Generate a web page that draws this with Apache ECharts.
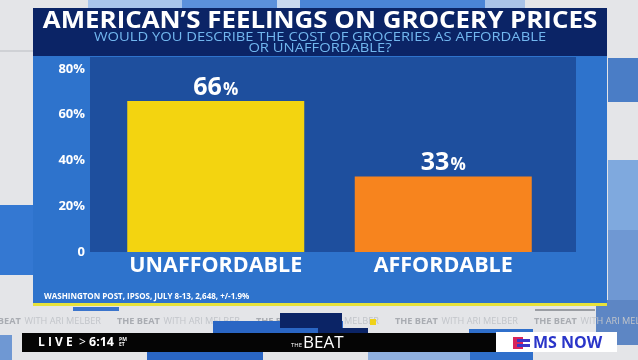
<!DOCTYPE html>
<html>
<head>
<meta charset="utf-8">
<script src="https://cdn.jsdelivr.net/npm/echarts@6/dist/echarts.min.js"></script>
<style>
  html, body { margin: 0; padding: 0; background: #e6e7e9; }
  #chart { width: 638px; height: 360px; }
</style>
</head>
<body>
<div id="chart"></div>
<script>
  const categories = ['UNAFFORDABLE', 'AFFORDABLE'];
  const values = [66, 33];
  const barColors = ['#f3d410', '#f7841e'];
  const yTicks = [0, 20, 40, 60, 80];

  const title = 'AMERICAN\u2019S FEELINGS ON GROCERY PRICES';
  const subtitle = 'WOULD YOU DESCRIBE THE COST OF GROCERIES AS AFFORDABLE\nOR UNAFFORDABLE?';
  const source = 'WASHINGTON POST, IPSOS, JULY 8-13, 2,648, +/-1.9%';

  const FONT = '"Open Sans", Lato, sans-serif';

  const chart = echarts.init(document.getElementById('chart'));

  // backdrop blocks behind the graphic (studio wall look)
  const rect = (x, y, w, h, fill, z) => ({
    type: 'rect', shape: { x, y, width: w, height: h },
    style: { fill }, z: z || 0, silent: true,
  });

  const ticker = [];
  for (let i = 0; i < 5; i++) {
    ticker.push({
      type: 'text', x: -22 + i * 139, y: 322, z: 1, scaleX: 1.08,
      style: {
        text: '{a|THE BEAT} {b|WITH ARI MELBER}', verticalAlign: 'middle',
        rich: {
          a: { fill: '#a9acb2', font: 'bold 8.5px ' + FONT },
          b: { fill: '#c2c5ca', font: '8.5px ' + FONT },
        },
      },
    });
  }

  chart.setOption({
    backgroundColor: '#e4e5e8',
    animation: false,
    grid: { left: 102, right: 81, top: 69, bottom: 108, containLabel: false },
    xAxis: {
      type: 'category',
      data: categories,
      z: 10,
      axisLine: { show: false },
      axisTick: { show: false },
      axisLabel: {
        color: '#ffffff',
        fontFamily: FONT,
        fontWeight: 'bold',
        fontSize: 21.5,
        margin: 3,
      },
    },
    yAxis: {
      type: 'value',
      min: yTicks[0],
      max: yTicks[yTicks.length - 1],
      interval: 20,
      z: 10,
      splitLine: { show: false },
      axisLine: { show: false },
      axisTick: { show: false },
      axisLabel: {
        color: '#ffffff',
        fontFamily: FONT,
        fontWeight: 'bold',
        fontSize: 13,
        margin: 17,
        formatter: (v) => (v === 0 ? '0' : v + '%'),
      },
    },
    series: [
      {
        type: 'bar',
        data: values.map((v, i) => ({ value: v, itemStyle: { color: barColors[i] } })),
        barWidth: 177,
        z: 5,
        label: {
          show: true,
          position: 'top',
          distance: 1,
          formatter: (p) => '{n|' + p.value + '}{p|%}',
          rich: {
            n: { color: '#ffffff', fontFamily: FONT, fontWeight: 'bold', fontSize: 25 },
            p: { color: '#ffffff', fontFamily: FONT, fontWeight: 'bold', fontSize: 17, padding: [5, 0, 0, 1] },
          },
        },
      },
    ],
    graphic: [
      // top wall blocks
      rect(88, 0, 94, 9, '#a8c5ec'),
      rect(182, 0, 95, 9, '#5b90db'),
      rect(277, 0, 23, 9, '#c8d8ef'),
      rect(300, 0, 185, 9, '#4a84d6'),
      rect(485, 0, 40, 9, '#a9c3e8'),
      rect(0, 50, 33, 2, '#cfd1d5'),
      // side blocks
      rect(0, 205, 33, 70, '#3478d2'),
      rect(608, 58, 30, 44, '#4a7dc6'),
      rect(608, 160, 30, 70, '#7fa9de'),
      rect(596, 300, 42, 45, '#5d86c4'),
      rect(608, 230, 30, 70, '#6f98d3'),
      // title box
      rect(33, 8, 574, 48, '#0b2466', 1),
      {
        type: 'text', x: 320, y: 21, z: 2, scaleX: 1.125,
        style: {
          text: title, fill: '#ffffff', font: 'bold 23px ' + FONT,
          align: 'center', verticalAlign: 'middle',
        },
      },
      {
        type: 'text', x: 320, y: 42.5, z: 2, scaleX: 1.18,
        style: {
          text: subtitle, fill: '#72b7ef', font: '12.5px ' + FONT,
          align: 'center', verticalAlign: 'middle', lineHeight: 11,
        },
      },
      // main panel + plot area
      rect(33, 56, 574, 248, '#2e73cc', 1),
      rect(90, 57, 486, 195, '#1e4f9e', 2),
      rect(33, 303, 574, 3, '#e7e23a', 2),
      {
        type: 'text', x: 44, y: 297, z: 3,
        style: { text: source, fill: '#ffffff', font: 'bold 8px ' + FONT, verticalAlign: 'middle' },
      },
      // lower ticker area
      rect(73, 307, 46, 4, '#3a74cc', 1),
      rect(535, 309, 60, 2, '#9a9da3', 1),
      ...ticker,
      rect(213, 321, 130, 12, '#2a66c4', 2),
      rect(280, 313, 62, 15, '#0b2466', 2),
      rect(318, 328, 50, 5, '#0b2466', 2),
      rect(370, 319, 6, 6, '#f0d21a', 2),
      rect(469, 329, 64, 31, '#2f6fcb', 0),
      rect(147, 352, 116, 8, '#2a66c4', 0),
      rect(368, 352, 102, 8, '#8fb0df', 0),
      rect(0, 335, 12, 25, '#6f98d3', 0),
      rect(22, 333, 474, 19, '#050505', 3),
      {
        type: 'text', x: 38, y: 342.5, z: 4,
        style: {
          text: 'L I V E', fill: '#ffffff', font: 'bold 12px ' + FONT,
          verticalAlign: 'middle',
        },
      },
      {
        type: 'text', x: 79, y: 342.5, z: 4,
        style: {
          text: '>', fill: '#ffffff', font: '12px ' + FONT,
          verticalAlign: 'middle',
        },
      },
      {
        type: 'text', x: 89, y: 342.5, z: 4,
        style: {
          text: '6:14', fill: '#ffffff', font: 'bold 12.5px ' + FONT,
          verticalAlign: 'middle',
        },
      },
      {
        type: 'text', x: 119, y: 342, z: 4,
        style: {
          text: 'PM\nET', fill: '#ffffff', font: 'bold 5px ' + FONT,
          verticalAlign: 'middle', lineHeight: 5,
        },
      },
      {
        type: 'text', x: 291, y: 343, z: 4,
        style: {
          text: '{a|THE}{b|BEAT}', verticalAlign: 'middle',
          rich: {
            a: { fill: '#ffffff', font: '6px ' + FONT, padding: [4, 1, 0, 0] },
            b: { fill: '#ffffff', font: '17px "Liberation Sans Narrow", ' + FONT },
          },
        },
      },
      rect(496, 332, 121, 20, '#ffffff', 3),
      rect(513, 337, 10, 12, '#d8255b', 4),
      rect(517, 339, 13, 3, '#3a35c9', 4),
      rect(517, 344, 13, 3, '#3a35c9', 4),
      {
        type: 'text', x: 533, y: 343, z: 4,
        style: {
          text: 'MS NOW', fill: '#2a35c9', font: 'bold 16px "Liberation Sans Narrow", ' + FONT,
          verticalAlign: 'middle',
        },
      },
    ],
  });
</script>
</body>
</html>
